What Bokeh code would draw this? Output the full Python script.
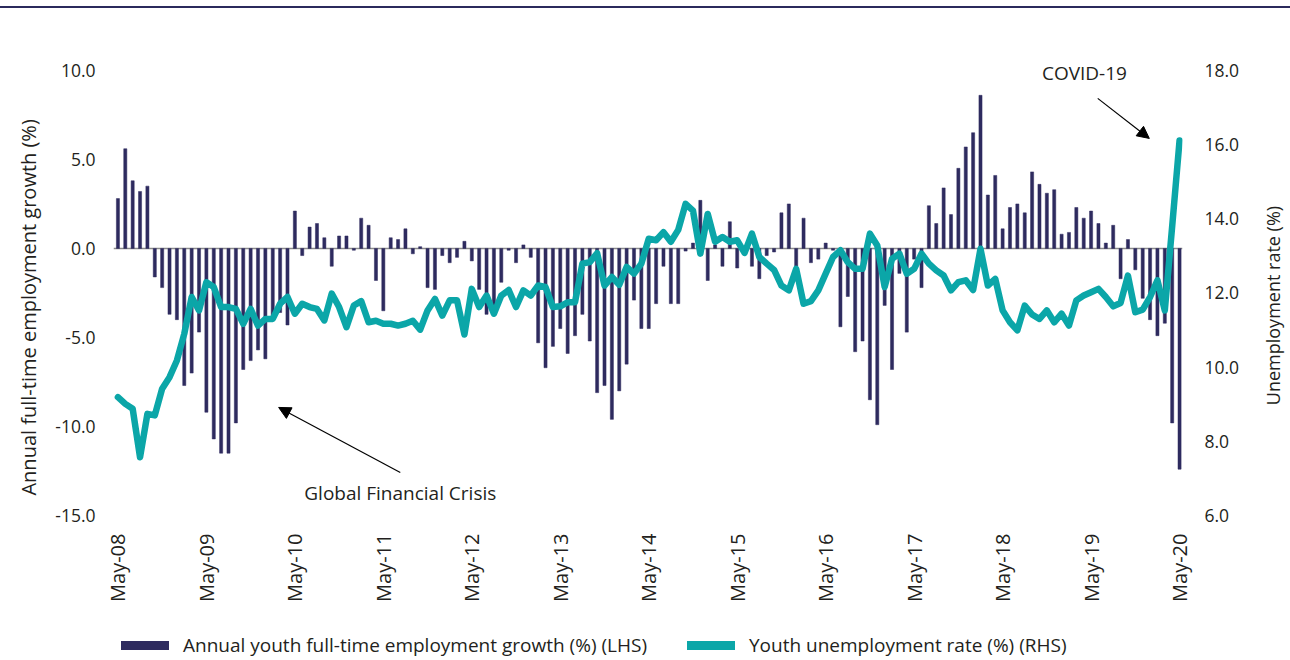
import numpy as np
from bokeh.plotting import figure
from bokeh.models import (Range1d, LinearAxis, FixedTicker, Span, Arrow, NormalHead,
                          Label, Legend, LegendItem, Div, NumeralTickFormatter, ColumnDataSource)
from bokeh.layouts import column, row
from bokeh.embed import file_html
from bokeh.resources import INLINE

# ---------------- data ----------------
tick_labels = ["May-08", "May-09", "May-10", "May-11", "May-12", "May-13", "May-14",
               "May-15", "May-16", "May-17", "May-18", "May-19", "May-20"]

# Annual youth full-time employment growth (%) (LHS), monthly May-08 .. May-20
growth = [
    2.8, 5.6, 3.8, 3.2, 3.5, -1.6, -2.2, -3.7, -4.0, -7.7,
    -7.0, -4.7, -9.2, -10.7, -11.5, -11.5, -9.8, -6.8, -6.3, -5.7,
    -6.2, -4.0, -3.6, -4.3,
    2.1, -0.4, 1.2, 1.4, 0.6, -1.0, 0.7, 0.7, -0.1, 1.7,
    1.3, -1.8, -3.5, 0.6, 0.5, 1.1, -0.3, 0.1, -2.2, -2.3,
    -0.4, -0.8, -0.5, 0.4, -0.7, -2.3, -3.7,
    -3.6, -1.9, -0.1, -0.8, 0.2, -0.5, -5.3, -6.7, -5.5, -4.5,
    -5.9, -4.9, -3.7, -5.2, -8.1, -7.7, -9.6, -8.0, -6.5, -2.9,
    -4.5, -4.5, -3.1, -1.0, -3.1, -3.1,
    -0.15, 0.3, 2.7, -1.8, 0.2, -1.0, 1.5, -1.1, -0.3, -1.0,
    -1.7, -0.4, -0.2, 2.0, 2.5, -1.0, 1.7, -0.8, -0.6, 0.3,
    -0.1, -4.4, -2.7, -5.8, -5.2, -8.5,
    -9.9, -3.2, -6.8, -1.4, -4.7, -0.6, -2.2, 2.4, 1.4, 3.4,
    1.9, 4.5, 5.7, 6.5, 8.6, 3.0, 4.1, 1.1, 2.3, 2.5,
    2.0, 4.3, 3.6, 3.1, 3.3, 0.8,
    0.9, 2.3, 1.7, 2.1, 1.4, 0.3, 1.3, -1.7, 0.5, -1.2,
    -2.8, -4.0, -4.9, -4.2, -9.8, -12.4,
]

# Youth unemployment rate (%) (RHS), monthly May-08 .. May-20
rate = [
    9.19, 9.01, 8.88, 7.57, 8.74, 8.70, 9.42, 9.73, 10.18, 10.90,
    11.89, 11.53, 12.29, 12.16, 11.62, 11.62, 11.57, 11.17, 11.57, 11.12,
    11.30, 11.30, 11.71, 11.89, 11.44,
    11.71, 11.62, 11.57, 11.26, 11.98, 11.62, 11.08, 11.66, 11.78, 11.21,
    11.25, 11.17, 11.17, 11.12, 11.17, 11.25, 11.01, 11.53, 11.84, 11.39,
    11.80, 11.80, 10.88, 12.11, 11.62, 11.93,
    11.44, 11.93, 12.08, 11.62, 12.07, 11.93, 12.20, 12.16, 11.62, 11.64,
    11.75, 11.75, 12.79, 12.83, 13.07, 12.20, 12.43, 12.22, 12.70, 12.52,
    12.79, 13.46, 13.42, 13.64, 13.38, 13.70,
    14.40, 14.22, 13.06, 14.13, 13.38, 13.51, 13.38, 13.42, 13.08, 13.60,
    12.97, 12.79, 12.62, 12.20, 12.07, 12.65, 11.71, 11.78, 12.07, 12.52,
    12.97, 13.15, 12.83, 12.65, 12.65, 13.60,
    13.28, 12.16, 12.92, 13.06, 12.52, 12.65, 13.06, 12.79, 12.61, 12.47,
    12.07, 12.29, 12.34, 12.08, 13.19, 12.20, 12.38, 11.53, 11.21, 10.99,
    11.66, 11.42, 11.30, 11.53, 11.21, 11.44,
    11.12, 11.80, 11.93, 12.02, 12.11, 11.89, 11.64, 11.73, 12.47, 11.48,
    11.55, 11.89, 12.34, 11.53, 13.80, 16.11,
]

left_ticks = [-15, -10, -5, 0, 5, 10]
right_ticks = [6, 8, 10, 12, 14, 16, 18]

# ---------------- style ----------------
NAVY = "#2e2b5f"
TEAL = "#0ba6a8"
TXT = "#231f20"
FONT = "Open Sans"

TOP, BOTTOM = 53, 95          # borders shared by the chart row
LT_W, TF_W = 45, 40           # strips holding the two axis titles

months = list(range(len(growth)))
tick_pos = [12 * i for i in range(len(tick_labels))]

src = ColumnDataSource(dict(m=months, g=growth, r=rate))

# y ranges reach a little above the top tick so the COVID-19 note is not clipped
p = figure(width=1290 - LT_W - TF_W, height=602, output_backend="svg", toolbar_location=None,
           x_range=Range1d(-0.6, 144.4), y_range=Range1d(-15, 10.5),
           min_border_left=113 - LT_W, min_border_right=108 - TF_W,
           min_border_top=TOP, min_border_bottom=BOTTOM)
p.extra_y_ranges = {"rhs": Range1d(6, 18.24)}
p.outline_line_color = None
p.xgrid.visible = False
p.ygrid.visible = False

# zero line
p.add_layout(Span(location=0, dimension="width", line_color="#8a8a8a",
                  line_width=1.5, level="underlay"))

p.vbar(x="m", top="g", bottom=0, width=0.42, source=src,
       fill_color=NAVY, line_color=NAVY, line_width=0.5)
p.line(x="m", y="r", source=src, y_range_name="rhs",
       line_color=TEAL, line_width=6.5, line_join="round", line_cap="round")

# x axis
xa = p.xaxis[0]
xa.ticker = FixedTicker(ticks=tick_pos)
xa.major_label_overrides = {t: l for t, l in zip(tick_pos, tick_labels)}
xa.major_label_orientation = np.pi / 2
xa.axis_line_color = None
xa.major_tick_line_color = None
xa.minor_tick_line_color = None
xa.major_label_standoff = 12
xa.major_label_text_font = FONT
xa.major_label_text_font_size = "20px"
xa.major_label_text_color = TXT

# left axis
ya = p.yaxis[0]
ya.ticker = FixedTicker(ticks=left_ticks)
ya.formatter = NumeralTickFormatter(format="0.0")
ya.axis_line_color = None
ya.major_tick_line_color = None
ya.minor_tick_line_color = None
ya.major_label_standoff = 12
ya.major_label_text_font = FONT
ya.major_label_text_font_size = "17.5px"
ya.major_label_text_color = TXT

# right axis
ra = LinearAxis(y_range_name="rhs", ticker=FixedTicker(ticks=right_ticks),
                formatter=NumeralTickFormatter(format="0.0"))
ra.axis_line_color = None
ra.major_tick_line_color = None
ra.minor_tick_line_color = None
ra.major_label_standoff = 16
ra.major_label_text_font = FONT
ra.major_label_text_font_size = "17.5px"
ra.major_label_text_color = TXT
p.add_layout(ra, "right")

# annotations
p.add_layout(Label(x=131.1, y=9.83, text="COVID-19", text_align="center",
                   text_baseline="middle", text_font=FONT, text_font_size="19px",
                   text_color=TXT))
p.add_layout(Arrow(end=NormalHead(size=12, fill_color="black", line_color="black"),
                   x_start=132.9, y_start=8.43, x_end=139.9, y_end=6.18,
                   line_color="black", line_width=1.2))
p.add_layout(Label(x=38.3, y=-13.71, text="Global Financial Crisis", text_align="center",
                   text_baseline="middle", text_font=FONT, text_font_size="19px",
                   text_color=TXT))
p.add_layout(Arrow(end=NormalHead(size=12, fill_color="black", line_color="black"),
                   x_start=38.3, y_start=-12.58, x_end=21.8, y_end=-8.93,
                   line_color="black", line_width=1.2))


def strip(width, y_range):
    f = figure(width=width, height=602, output_backend="svg", toolbar_location=None,
               x_range=Range1d(0, 1), y_range=y_range, min_border_left=0,
               min_border_right=0, min_border_top=TOP, min_border_bottom=BOTTOM,
               x_axis_location=None, y_axis_location=None)
    f.outline_line_color = None
    f.xgrid.visible = False
    f.ygrid.visible = False
    return f


# left axis title strip (same vertical scale as the left axis)
lt = strip(LT_W, Range1d(-15, 10.5))
lt.add_layout(Label(x=0.62, y=-3.31, text="Annual full-time employment growth (%)",
                    angle=np.pi / 2, text_align="center", text_baseline="middle",
                    text_font=FONT, text_font_size="20px", text_color=TXT))

# right axis title strip (same vertical scale as the right axis)
tf = strip(TF_W, Range1d(6, 18.24))
tf.add_layout(Label(x=0.55, y=11.66, text="Unemployment rate (%)",
                    angle=np.pi / 2, text_align="center", text_baseline="middle",
                    text_font=FONT, text_font_size="18px", text_color=TXT))

# legend in its own strip below the chart
lf = figure(width=1290, height=48, output_backend="svg", toolbar_location=None,
            x_range=Range1d(0, 1), y_range=Range1d(0, 1), min_border_left=113,
            min_border_right=108, min_border_top=0, min_border_bottom=0,
            x_axis_location=None, y_axis_location=None)
lf.outline_line_color = None
lf.xgrid.visible = False
lf.ygrid.visible = False
r1 = lf.line(x=[-5, -4], y=[-5, -5], line_color=NAVY, line_width=9, line_cap="round")
r2 = lf.line(x=[-5, -4], y=[-5, -5], line_color=TEAL, line_width=9, line_cap="round")
legend = Legend(items=[
    LegendItem(label="Annual youth full-time employment growth (%) (LHS)", renderers=[r1]),
    LegendItem(label="Youth unemployment rate (%) (RHS)", renderers=[r2]),
], orientation="horizontal", location=(8, 0), glyph_width=48, glyph_height=18,
    label_height=18, label_standoff=14, spacing=40, padding=0, margin=0,
    border_line_color=None, background_fill_alpha=0,
    label_text_font=FONT, label_text_font_size="19px", label_text_color=TXT)
lf.add_layout(legend, "center")

top_rule = Div(width=1290, height=2, margin=(6, 0, 0, 0),
               styles={"background-color": "#2b2a5c"})
layout = column(top_rule, row(lt, p, tf, spacing=0), lf, spacing=0)

open("out.html", "w").write(file_html(layout, INLINE))
